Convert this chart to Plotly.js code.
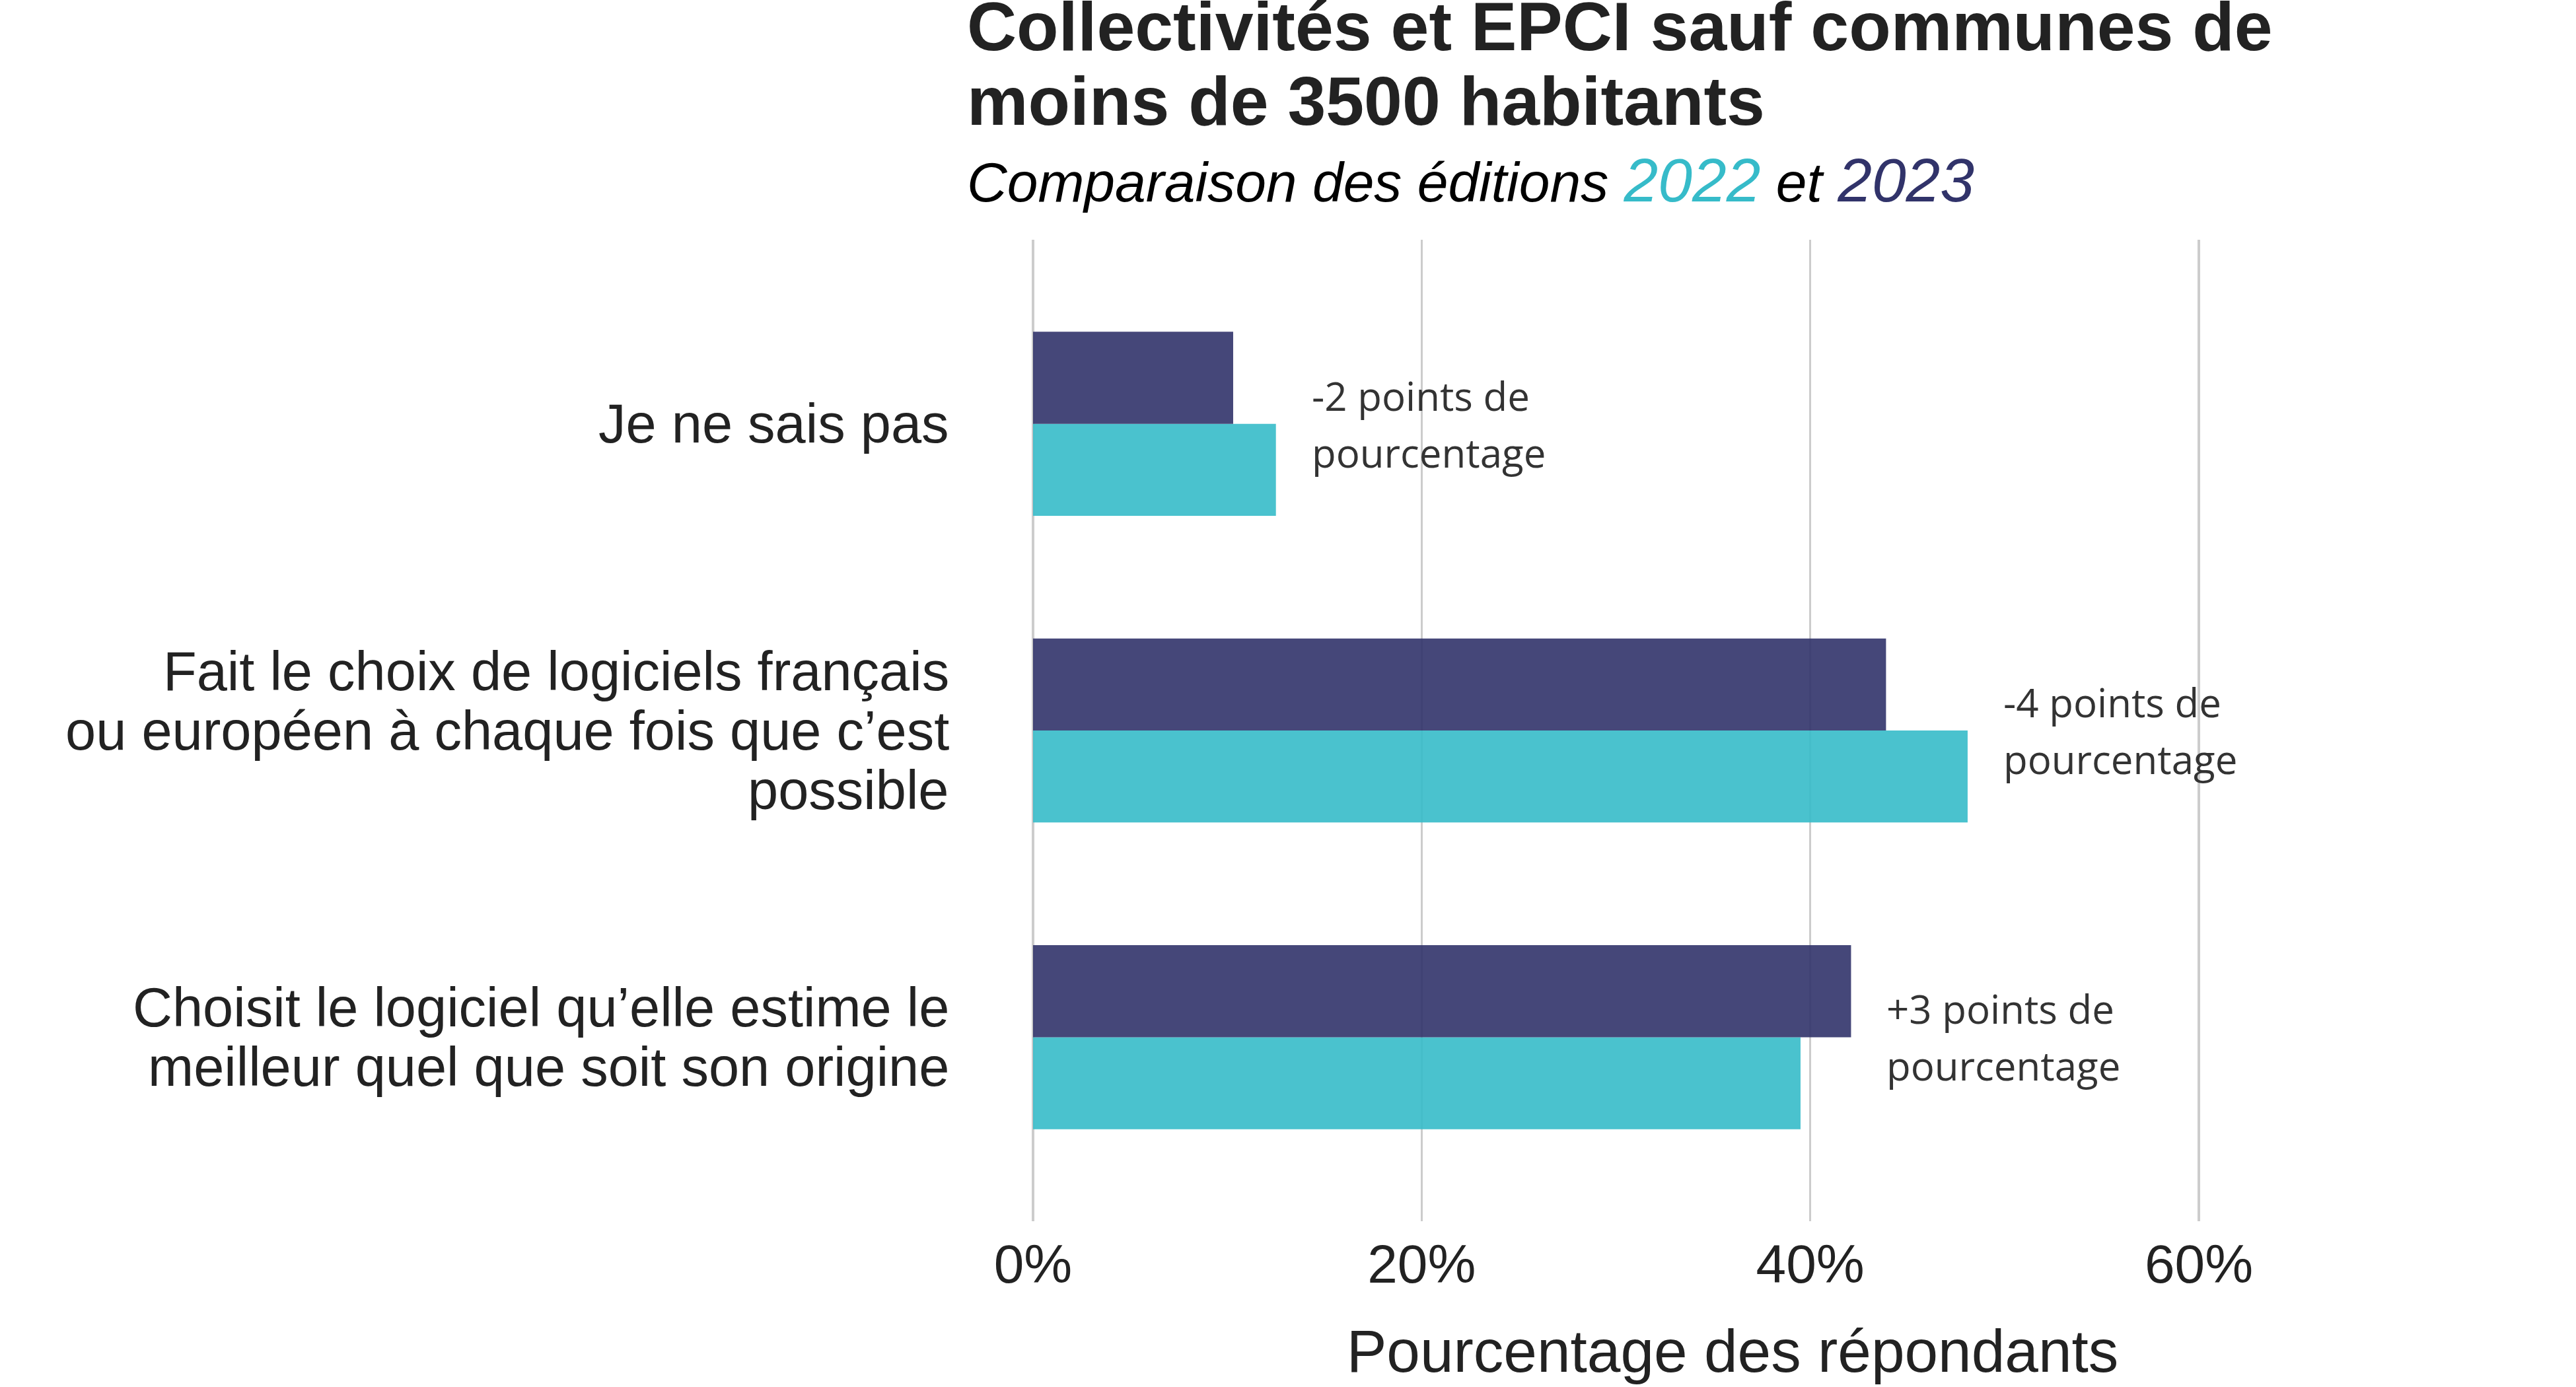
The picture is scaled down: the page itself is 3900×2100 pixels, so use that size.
<!DOCTYPE html>
<html>
<head>
<meta charset="utf-8">
<script src="https://cdn.plot.ly/plotly-3.0.1.min.js"></script>
<style>html,body{margin:0;padding:0;background:#fff;}#chart{width:3900px;height:2100px;}</style>
</head>
<body>
<div id="chart"></div>
<script>
// Categories listed bottom to top
const categories = [
  "Choisit le logiciel qu’elle estime le<br>meilleur quel que soit son origine",
  "Fait le choix de logiciels français<br>ou européen à chaque fois que c’est<br>possible",
  "Je ne sais pas"
];
const values2022 = [39.5, 48.1, 12.5];
const values2023 = [42.1, 43.9, 10.3];
const diffLabels = ["+3 points de<br>pourcentage", "-4 points de<br>pourcentage", "-2 points de<br>pourcentage"];
const xTickVals = [0, 20, 40, 60];
const xTickText = ["0%", "20%", "40%", "60%"];
const titleLines = ["Collectivités et EPCI sauf communes de", "moins de 3500 habitants"];

const col2022 = "#36BBC9";
const col2023 = "#31336A";
const sans = "Liberation Sans, Arial, sans-serif";

const traces = [
  {type: "bar", orientation: "h", name: "2022", y: categories, x: values2022,
   marker: {color: col2022, opacity: 0.9}, hoverinfo: "x"},
  {type: "bar", orientation: "h", name: "2023", y: categories, x: values2023,
   marker: {color: col2023, opacity: 0.9}, hoverinfo: "x"}
];

const annotations = [];

// Title, line by line (tighter line spacing than Plotly's default)
titleLines.forEach((ln, k) => {
  annotations.push({
    xref: "paper", yref: "paper", x: -0.048, y: 1, xanchor: "left", yanchor: "bottom",
    yshift: 263 - k * 113, showarrow: false, align: "left",
    text: "<b>" + ln + "</b>",
    font: {family: sans, size: 104, color: "#222222"}
  });
});

// Subtitle
annotations.push({
  xref: "paper", yref: "paper", x: -0.048, y: 1, xanchor: "left", yanchor: "bottom",
  yshift: 36, showarrow: false, align: "left",
  text: '<i>Comparaison des éditions <span style="font-size:93px;color:' + col2022 + '">2022</span> et <span style="font-size:93px;color:' + col2023 + '">2023</span></i>',
  font: {family: sans, size: 84, color: "#000000"}
});

// Category labels, line by line
categories.forEach((c) => {
  const lines = c.split("<br>");
  const n = lines.length;
  lines.forEach((ln, k) => {
    annotations.push({
      xref: "paper", yref: "y", x: 0, y: c,
      xanchor: "right", yanchor: "middle", xshift: -125,
      yshift: -((k - (n - 1) / 2) * 90),
      showarrow: false, align: "right", text: ln,
      font: {family: sans, size: 83, color: "#222222"}
    });
  });
});

// Difference labels
categories.forEach((c, i) => {
  const lines = diffLabels[i].split("<br>");
  const n = lines.length;
  lines.forEach((ln, k) => {
    annotations.push({
      xref: "x", yref: "y",
      x: Math.max(values2022[i], values2023[i]), y: c,
      xshift: 52, xanchor: "left", yanchor: "middle", align: "left",
      yshift: -((k - (n - 1) / 2) * 86),
      showarrow: false, text: ln,
      font: {family: "Open Sans, Noto Sans, sans-serif", size: 60, color: "#333333"}
    });
  });
});

const layout = {
  width: 3900, height: 2100,
  paper_bgcolor: "#ffffff", plot_bgcolor: "#ffffff",
  margin: {l: 1564, r: 218, t: 363, b: 251, pad: 0},
  showlegend: false,
  barmode: "group", bargap: 0.4, bargroupgap: 0,
  xaxis: {
    range: [0, 72], tickvals: xTickVals, ticktext: xTickText,
    showgrid: true, gridcolor: "#cccccc", gridwidth: 3.5,
    zeroline: true, zerolinecolor: "#cccccc", zerolinewidth: 3.5,
    showline: false, ticks: "", ticklabelstandoff: 10,
    tickfont: {family: sans, size: 82, color: "#222222"},
    title: {text: "Pourcentage des répondants", standoff: 55,
            font: {family: sans, size: 91, color: "#222222"}}
  },
  yaxis: {
    type: "category", categoryorder: "array", categoryarray: categories,
    range: [-0.6, 2.6],
    showgrid: false, zeroline: false, showline: false, ticks: "",
    showticklabels: false
  },
  annotations: annotations
};

Plotly.newPlot("chart", traces, layout, {staticPlot: true, displayModeBar: false});
</script>
</body>
</html>
